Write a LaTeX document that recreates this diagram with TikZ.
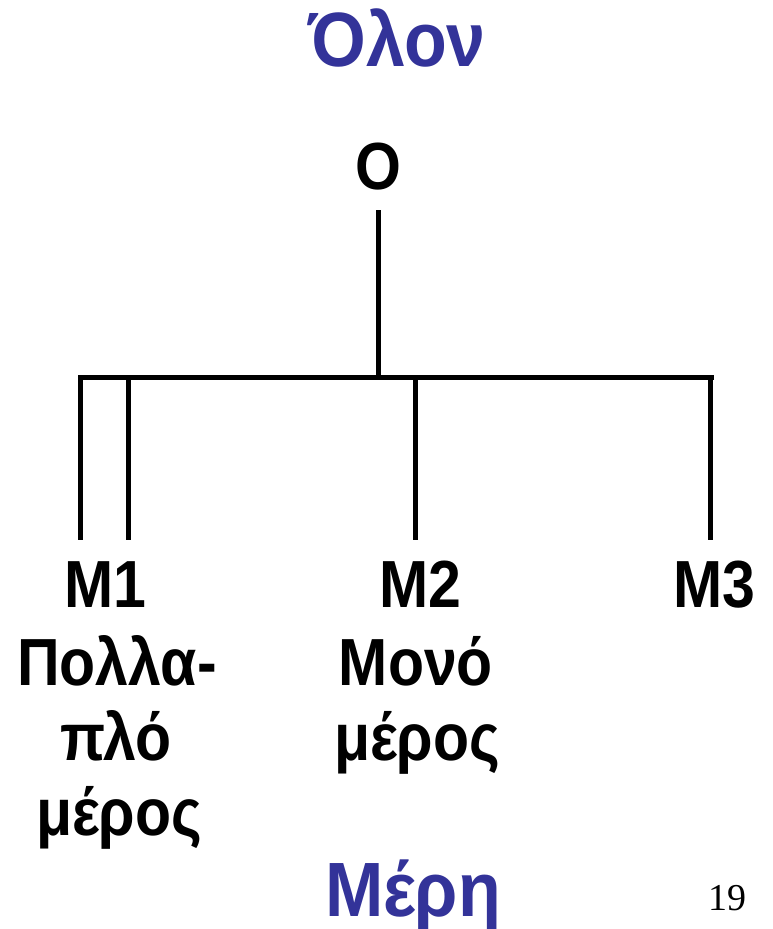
\documentclass[tikz,border=0pt]{standalone}
\usepackage{fontspec}
\setmainfont{Liberation Sans}
\newfontfamily\timesfont{Liberation Serif}
\definecolor{titleblue}{HTML}{333399}
\tikzset{
  title/.style={anchor=base, inner sep=0pt, yscale=1.1, transform shape, text=titleblue, font=\fontsize{70}{84}\selectfont\bfseries},
  lbl/.style={anchor=base, inner sep=0pt, yscale=1.13, transform shape, font=\fontsize{59}{70}\selectfont\bfseries},
  conn/.style={line width=5pt},
}
\begin{document}
\begin{tikzpicture}[x=1pt,y=-1pt]
\useasboundingbox (0,0) rectangle (772,929);
\node[title] (olon) at (397,66) {Όλον};
\node[lbl] (O) at (378,189) {O};
\node[lbl] (m1) at (105,607) {M1};
\node[lbl] (m2) at (420,607) {M2};
\node[lbl] (m3) at (714,607) {M3};
\node[lbl] (p1) at (117,685) {Πολλα-};
\node[lbl] (p2) at (116,760) {πλό};
\node[lbl] (p3) at (119,835) {μέρος};
\node[lbl] (q1) at (416,685) {Μονό};
\node[lbl] (q2) at (417,760) {μέρος};
\node[title] (mere) at (413,916) {Μέρη};
\node[anchor=base, inner sep=0pt, font=\timesfont\fontsize{38}{44}\selectfont] (pg) at (727,910) {19};
\coordinate (top) at (378,210);
\coordinate (j) at (378,377);
\coordinate (hl) at (78,377);
\coordinate (hr) at (714,377);
\coordinate (a1) at (80,377);   \coordinate (b1) at (80,540);
\coordinate (a2) at (128,377);  \coordinate (b2) at (128,540);
\coordinate (a3) at (415,377);  \coordinate (b3) at (415,540);
\coordinate (a4) at (710,377);  \coordinate (b4) at (710,540);
\draw[conn] (top) -- (j);
\draw[conn] (hl) -- (hr);
\draw[conn] (a1) -- (b1);
\draw[conn] (a2) -- (b2);
\draw[conn] (a3) -- (b3);
\draw[conn] (a4) -- (b4);
\end{tikzpicture}
\end{document}
